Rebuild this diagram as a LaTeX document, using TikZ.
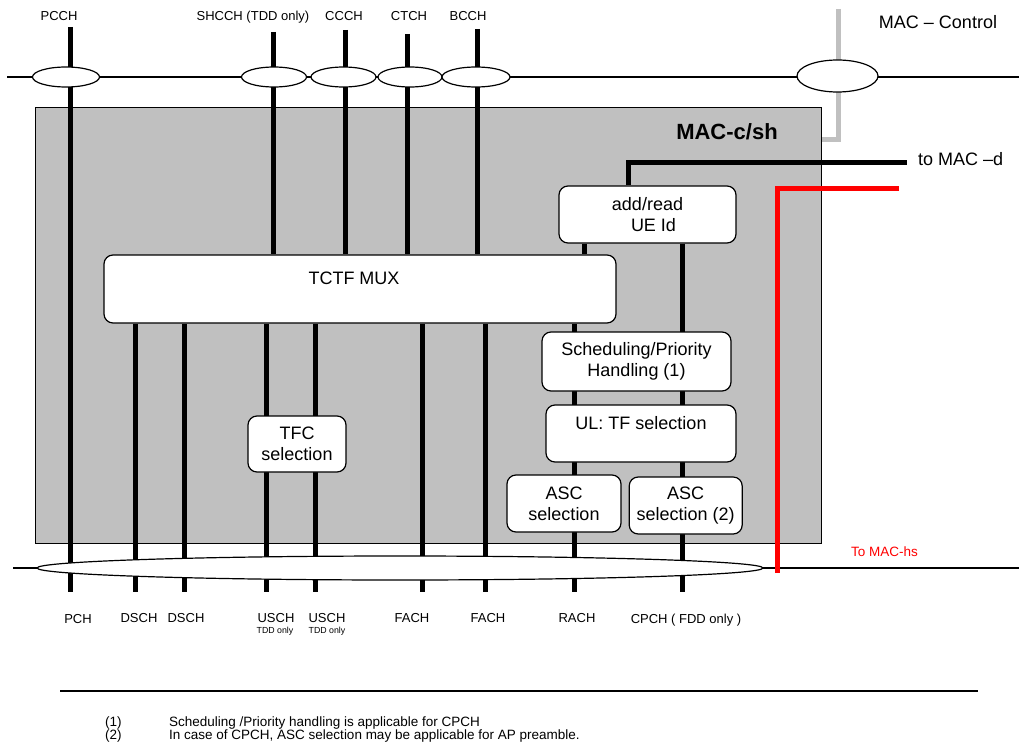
\documentclass[tikz,border=0pt]{standalone}
\usepackage{fontspec}
\setmainfont{Liberation Sans}
\usepackage{tikz}
\usetikzlibrary{positioning, shapes.geometric}
\definecolor{macgray}{HTML}{C0C0C0}
\definecolor{hsred}{HTML}{FF0000}
\newcommand{\blkfont}{\fontsize{18}{21}\selectfont}
\newcommand{\chfont}{\fontsize{13}{15}\selectfont}
\newcommand{\tddfont}{\fontsize{8.8}{10}\selectfont}
\newcommand{\notefont}{\fontsize{13.5}{13}\selectfont}
\newcommand{\macfont}{\fontsize{22}{26}\selectfont}
\tikzstyle{wblock} = [rectangle, draw, fill=white, line width=1.2pt, 
rounded corners=9pt, align=center, font=\blkfont, inner sep=2pt]
\tikzstyle{macblock} = [rectangle, draw, fill=macgray, line width=1pt, inner sep=0pt]
\tikzstyle{chell} = [ellipse, draw, fill=white, line width=1.2pt, inner sep=0pt, minimum height=20pt]
\tikzstyle{chlabel} = [font=\chfont, inner sep=0pt, anchor=base]
\tikzstyle{chan} = [line width=5pt]
\tikzstyle{bus} = [line width=1.3pt]
\tikzstyle{ctlline} = [line width=5pt, draw=macgray]
\tikzstyle{hsline} = [line width=5pt, draw=hsred]
\pgfdeclarelayer{shade}
\pgfdeclarelayer{wires}
\pgfsetlayers{shade,wires,main}

\begin{document}
\begin{tikzpicture}[x=1pt, y=-1pt]
        \useasboundingbox (0,0) rectangle (1019,743);
        % blocks
        \node[wblock, minimum width=177pt, minimum height=57pt] (addread) at (647.5,214.5) {add/read\\\hspace*{12pt}UE Id};
        \node[wblock, minimum width=512pt, minimum height=68pt] (tctf) at (360,289) {TCTF MUX\hspace*{12pt}\\ \phantom{X}};
        \node[wblock, minimum width=98pt, minimum height=56pt] (tfc) at (297,444) {TFC\\selection};
        \node[wblock, minimum width=189pt, minimum height=59pt] (sched) at (636.5,361.5) {Scheduling/Priority\\Handling (1)};
        \node[wblock, minimum width=190pt, minimum height=57pt] (ultf) at (641,433.5) {UL: TF selection\\ \phantom{X}};
        \node[wblock, minimum width=114pt, minimum height=57pt] (asca) at (564,503.5) {ASC\\selection};
        \node[wblock, minimum width=113pt, minimum height=57pt, right=7pt of asca, yshift=-2pt] (ascb) {ASC\\selection (2)};
        % channel ellipses
        \node[chell, minimum width=67pt] (epcch) at (66,77) {};
        \node[chell, minimum width=65pt] (eshcch) at (274,77) {};
        \node[chell, minimum width=65pt] (eccch) at (343.5,77) {};
        \node[chell, minimum width=64pt] (ectch) at (410,77) {};
        \node[chell, minimum width=68pt] (ebcch) at (476,77) {};
        \node[chell, minimum width=81pt, minimum height=32pt] (ectl) at (837.5,76) {};
        \node[chell, minimum width=726pt, minimum height=24pt] (ebot) at (400,568) {};
        % frame and buses
        \begin{pgfonlayer}{shade}
                \node[macblock, minimum width=786pt, minimum height=435pt] (mac) at (428,325.5) {};
                \coordinate (topbus-w) at (7,77);
                \coordinate (topbus-e) at (1019,77);
                \coordinate (botbus-w) at (13,568);
                \coordinate (botbus-e) at (1019,568);
                \draw[bus] (topbus-w) -- (topbus-e);
                \draw[bus] (botbus-w) -- (botbus-e);
        \end{pgfonlayer}
        % channels
        \begin{pgfonlayer}{wires}
                \coordinate (pcch-t) at (70,27);
                \coordinate (pch-b) at (70,592);
                \draw[chan] (pcch-t) -- (pch-b);
                \foreach \n/\x/\y in {shcch/273/32, ccch/345/30, ctch/407/34, bcch/477/29} {
                        \coordinate (\n-t) at (\x,\y);
                        \draw[chan] (\n-t) -- (\n-t |- tctf.north);
                }
                \foreach \n/\x in {dscha/135, dschb/184, uscha/266, uschb/315, facha/422, fachb/485} {
                        \coordinate (\n-b) at (\x,592);
                        \draw[chan] (\n-b |- tctf.south) -- (\n-b);
                }
                \coordinate (ueid-x) at (584,0);
                \draw[chan] (ueid-x |- addread.south) -- (ueid-x |- tctf.north);
                \coordinate (rach-b) at (574,592);
                \draw[chan] (rach-b |- tctf.south) -- (rach-b);
                \coordinate (cpch-b) at (682,592);
                \draw[chan] (cpch-b |- addread.south) -- (cpch-b);
                % to MAC-d
                \coordinate (macd-k) at (628,163);
                \coordinate (macd-e) at (907,163);
                \draw[chan] (macd-k |- addread.north) -- (macd-k) -- (macd-e);
                % to MAC-hs
                \coordinate (hs-e) at (899,189);
                \coordinate (hs-k) at (777,189);
                \coordinate (hs-b) at (777,573);
                \draw[hsline] (hs-e) -- (hs-k) -- (hs-b);
                % MAC control
                \coordinate (ctl-t) at (838,9);
                \coordinate (ctl-k) at (838,140);
                \draw[ctlline] (ctl-t) -- (ctl-k) -- (ctl-k -| mac.east);
        \end{pgfonlayer}
        % labels
        \node[chlabel] (pcch) at (59,21) {PCCH};
        \node[chlabel] (shcch) at (253,21) {SHCCH (TDD only)};
        \node[chlabel] (ccch) at (344,21) {CCCH};
        \node[chlabel] (ctch) at (409,21) {CTCH};
        \node[chlabel] (bcch) at (468,21) {BCCH};
        \node[font=\blkfont, inner sep=0pt, anchor=base] (ctl) at (938,29) {MAC \textendash{} Control};
        \node[font=\macfont\bfseries, inner sep=0pt, anchor=base] (maclabel) at (727,140) {MAC-c/sh};
        \node[font=\blkfont, inner sep=0pt, anchor=base west] (macd) at (918,166) {to MAC \textendash d};
        \node[font=\fontsize{13.5}{15}\selectfont, text=hsred, inner sep=0pt, anchor=base west] (machs) at (851,556) {To MAC-hs};
        \node[chlabel] (pch) at (78,623) {PCH};
        \node[chlabel] (dscha) at (139,622) {DSCH};
        \node[chlabel] (dschb) at (186,622) {DSCH};
        \node[chlabel] (uscha) at (276,622) {USCH};
        \node[chlabel] (uschb) at (327,622) {USCH};
        \node[chlabel, font=\tddfont] (tdda) at (275,633) {TDD only};
        \node[chlabel, font=\tddfont] (tddb) at (327,633) {TDD only};
        \node[chlabel] (facha) at (412,622) {FACH};
        \node[chlabel] (fachb) at (488,622) {FACH};
        \node[chlabel] (rach) at (577,622) {RACH};
        \node[chlabel] (cpch) at (686,623) {CPCH ( FDD only )};
        % notes
        \coordinate (rule-w) at (60,691);
        \coordinate (rule-e) at (978,691);
        \draw[bus] (rule-w) -- (rule-e);
        \node[font=\notefont, inner sep=0pt, anchor=base west] (n1) at (105,726) {(1)};
        \node[font=\notefont, inner sep=0pt, anchor=base west] (t1) at (169,726) {Scheduling /Priority handling is applicable for CPCH};
        \node[font=\notefont, inner sep=0pt, anchor=base west] (n2) at (105,739) {(2)};
        \node[font=\notefont, inner sep=0pt, anchor=base west] (t2) at (169,739) {In case of CPCH, ASC selection may be applicable for AP preamble.};
\end{tikzpicture}
\end{document}
